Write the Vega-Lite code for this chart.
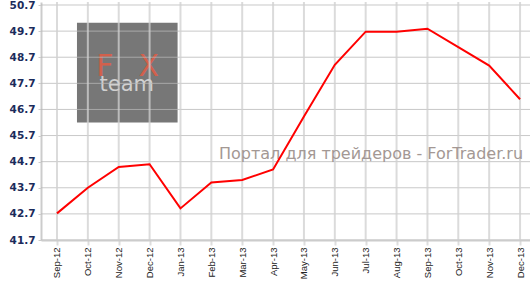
{
  "$schema": "https://vega.github.io/schema/vega-lite/v6.json",
  "width": 489,
  "height": 238,
  "autosize": "none",
  "padding": {"left": 41, "top": 2, "right": 0, "bottom": 43},
  "background": "white",
  "config": {
    "view": {"stroke": null},
    "axisX": {"title": null, "grid": false, "labelAngle": -90, "labelFont": "Liberation Sans", "labelFontSize": 9.5, "labelColor": "#222222", "domainColor": "#cccccc", "domainWidth": 2, "tickColor": "#dddddd", "tickSize": 5, "tickWidth": 2, "labelPadding": 2}
  },
  "datasets": {
    "series": [
      {"month": "Sep-12", "value": 42.72},
      {"month": "Oct-12", "value": 43.70},
      {"month": "Nov-12", "value": 44.50},
      {"month": "Dec-12", "value": 44.60},
      {"month": "Jan-13", "value": 42.91},
      {"month": "Feb-13", "value": 43.90},
      {"month": "Mar-13", "value": 44.00},
      {"month": "Apr-13", "value": 44.40},
      {"month": "May-13", "value": 46.43},
      {"month": "Jun-13", "value": 48.41},
      {"month": "Jul-13", "value": 49.68},
      {"month": "Aug-13", "value": 49.68},
      {"month": "Sep-13", "value": 49.79},
      {"month": "Oct-13", "value": 49.09},
      {"month": "Nov-13", "value": 48.38},
      {"month": "Dec-13", "value": 47.09}
    ],
    "ticks": [
      {"v": 41.7}, {"v": 42.7}, {"v": 43.7}, {"v": 44.7}, {"v": 45.7},
      {"v": 46.7}, {"v": 47.7}, {"v": 48.7}, {"v": 49.7}, {"v": 50.7}
    ],
    "one": [{}]
  },
  "layer": [
    {
      "data": {"name": "one"},
      "mark": {"type": "rect", "color": "#777777", "xOffset": 20, "x2Offset": 28},
      "encoding": {
        "x": {"datum": "Sep-12", "type": "ordinal",
              "scale": {"type": "point", "domain": ["Sep-12","Oct-12","Nov-12","Dec-12","Jan-13","Feb-13","Mar-13","Apr-13","May-13","Jun-13","Jul-13","Aug-13","Sep-13","Oct-13","Nov-13","Dec-13"], "padding": 0.42, "align": 0.616}},
        "x2": {"datum": "Dec-12"},
        "y": {"datum": 50.02, "type": "quantitative",
              "scale": {"domain": [41.7, 50.815], "nice": false, "zero": false}},
        "y2": {"datum": 46.2}
      }
    },
    {
      "data": {"name": "one"},
      "mark": {"type": "text", "text": "F", "font": "DejaVu Sans", "fontSize": 30, "fill": "#d2604c", "align": "center", "baseline": "alphabetic", "dx": 17},
      "encoding": {
        "x": {"datum": "Oct-12", "type": "ordinal"},
        "y": {"datum": 48.0, "type": "quantitative"}
      }
    },
    {
      "data": {"name": "one"},
      "mark": {"type": "text", "text": "X", "font": "DejaVu Sans", "fontSize": 30, "fill": "#d2604c", "align": "center", "baseline": "alphabetic", "dx": 30},
      "encoding": {
        "x": {"datum": "Nov-12", "type": "ordinal"},
        "y": {"datum": 48.0, "type": "quantitative"}
      }
    },
    {
      "data": {"name": "one"},
      "mark": {"type": "text", "text": "team", "font": "DejaVu Sans", "fontSize": 21, "fill": "#d0d0d0", "align": "center", "baseline": "alphabetic", "dx": 8},
      "encoding": {
        "x": {"datum": "Nov-12", "type": "ordinal"},
        "y": {"datum": 47.39, "type": "quantitative"}
      }
    },
    {
      "data": {"name": "ticks"},
      "mark": {"type": "rule", "color": "#b7b7b7", "opacity": 0.77, "strokeWidth": 1},
      "encoding": {
        "y": {"field": "v", "type": "quantitative", "title": null,
              "axis": {"values": [41.7, 42.7, 43.7, 44.7, 45.7, 46.7, 47.7, 48.7, 49.7, 50.7], "tickCount": 20, "format": ".1f", "title": null, "grid": false, "labelOverlap": false, "labelBound": false, "labelFlush": false, "labelFont": "DejaVu Sans", "labelFontSize": 10.5, "labelFontWeight": "bold", "labelColor": "#1b2b5b", "domainColor": "#cccccc", "domainWidth": 2, "tickColor": "#cccccc", "tickSize": 3, "labelPadding": 3}}
      }
    },
    {
      "data": {"name": "series"},
      "mark": {"type": "rule", "color": "#d0d0d0", "opacity": 0.77, "strokeWidth": 2},
      "encoding": {
        "x": {"field": "month", "type": "ordinal", "title": null, "sort": null}
      }
    },
    {
      "data": {"name": "one"},
      "mark": {"type": "text", "text": "Портал для трейдеров - ForTrader.ru", "font": "DejaVu Sans", "fontSize": 16, "color": "#a39894", "align": "right", "baseline": "alphabetic", "dx": 3},
      "encoding": {
        "x": {"datum": "Dec-13", "type": "ordinal"},
        "y": {"datum": 44.82, "type": "quantitative"}
      }
    },
    {
      "data": {"name": "series"},
      "mark": {"type": "line", "color": "#ff0000", "strokeWidth": 2},
      "encoding": {
        "x": {"field": "month", "type": "ordinal", "title": null, "sort": null},
        "y": {"field": "value", "type": "quantitative", "title": null}
      }
    }
  ]
}
